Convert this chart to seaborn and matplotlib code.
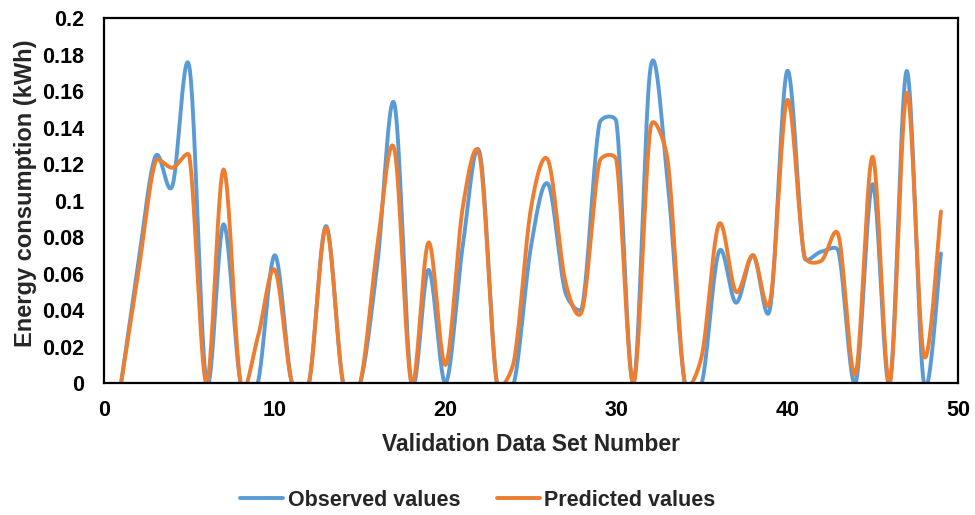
import numpy as np
import pandas as pd
import matplotlib
matplotlib.use("Agg")
import matplotlib.pyplot as plt
from matplotlib.ticker import FuncFormatter, MultipleLocator
import seaborn as sns

# Validation samples 1..49
set_number = list(range(1, 50))
observed = [0.000, 0.065, 0.124, 0.108, 0.173, 0.000, 0.087, 0.000, 0.000, 0.070,
            0.000, 0.000, 0.086, 0.000, 0.000, 0.065, 0.153, 0.000, 0.062, 0.000,
            0.075, 0.126, 0.000, 0.000, 0.075, 0.109, 0.050, 0.042, 0.142, 0.143,
            0.000, 0.173, 0.110, 0.000, 0.000, 0.072, 0.044, 0.070, 0.041, 0.171,
            0.069, 0.072, 0.072, 0.000, 0.109, 0.000, 0.171, 0.000, 0.071]
predicted = [0.000, 0.060, 0.121, 0.118, 0.124, 0.000, 0.117, 0.000, 0.025, 0.062,
             0.000, 0.000, 0.085, 0.000, 0.000, 0.075, 0.128, 0.000, 0.077, 0.010,
             0.096, 0.124, 0.000, 0.012, 0.096, 0.122, 0.056, 0.040, 0.121, 0.122,
             0.000, 0.140, 0.122, 0.000, 0.015, 0.087, 0.050, 0.070, 0.045, 0.155,
             0.070, 0.067, 0.081, 0.005, 0.124, 0.000, 0.159, 0.015, 0.094]

series_names = ["Observed values", "Predicted values"]
colors = ["#5B9BD5", "#ED7D31"]
y_ticks = [0, 0.02, 0.04, 0.06, 0.08, 0.1, 0.12, 0.14, 0.16, 0.18, 0.2]

FIG_W, FIG_H = 9.75, 5.15
AX_RECT = [0.1067, 0.2563, 0.8759, 0.7087]
X_RANGE, Y_RANGE = (0, 50), (0, 0.2)


def smooth_curve(x, y, sx, sy, steps=40):
    """Spreadsheet-style smoothed line: cubic Bezier segments whose control
    arms are 1/6 of the neighbour chord, capped at half the segment length
    (distances measured in screen units sx, sy)."""
    p = np.column_stack([x, y]).astype(float)
    scale = np.array([sx, sy])
    ext = np.vstack([p[0], p, p[-1]])
    t = np.linspace(0, 1, steps)[:, None]

    def dist(a, b):
        return np.hypot(*((b - a) * scale))

    out = []
    for i in range(len(p) - 1):
        p0, p1, p2, p3 = ext[i], ext[i + 1], ext[i + 2], ext[i + 3]
        d12 = dist(p1, p2)
        d02 = dist(p0, p2)
        d13 = dist(p1, p3)
        f0 = 1 / 6 if d02 == 0 else min(1 / 6, d12 / (2 * d02))
        f1 = 1 / 6 if d13 == 0 else min(1 / 6, d12 / (2 * d13))
        c1 = p1 + f0 * (p2 - p0)
        c2 = p2 - f1 * (p3 - p1)
        seg = ((1 - t) ** 3) * p1 + 3 * ((1 - t) ** 2) * t * c1 \
            + 3 * (1 - t) * t ** 2 * c2 + t ** 3 * p2
        out.append(seg if i == 0 else seg[1:])
    seg = np.vstack(out)
    return seg[:, 0], seg[:, 1]


px_x = AX_RECT[2] * FIG_W * 100 / (X_RANGE[1] - X_RANGE[0])
px_y = AX_RECT[3] * FIG_H * 100 / (Y_RANGE[1] - Y_RANGE[0])

frames = []
for name, vals in zip(series_names, [observed, predicted]):
    cx, cy = smooth_curve(set_number, vals, px_x, px_y)
    frames.append(pd.DataFrame({"x": cx, "y": cy, "series": name}))
df = pd.concat(frames, ignore_index=True)

sns.set_theme(style="white")
plt.rcParams["font.family"] = ["Liberation Sans", "DejaVu Sans"]
plt.rcParams["font.weight"] = "bold"

fig = plt.figure(figsize=(FIG_W, FIG_H), dpi=100)
ax = fig.add_axes(AX_RECT)

sns.lineplot(data=df, x="x", y="y", hue="series", palette=colors,
             sort=False, estimator=None, linewidth=2.8, ax=ax, legend=True)

ax.set_xlim(*X_RANGE)
ax.set_ylim(*Y_RANGE)
ax.xaxis.set_major_locator(MultipleLocator(10))
ax.set_yticks(y_ticks)
ax.yaxis.set_major_formatter(FuncFormatter(lambda v, _: f"{v:g}"))
ax.tick_params(axis="both", length=0, labelsize=15.5, colors="black")
ax.tick_params(axis="y", pad=14)
ax.tick_params(axis="x", pad=12)
for lab in ax.get_xticklabels() + ax.get_yticklabels():
    lab.set_fontweight("bold")

for sp in ax.spines.values():
    sp.set_visible(True)
    sp.set_color("black")
    sp.set_linewidth(1.6)

ax.set_xlabel("Validation Data Set Number", fontsize=16.5, fontweight="bold", labelpad=9)
ax.set_ylabel("Energy consumption (kWh)", fontsize=17, fontweight="bold", labelpad=8)
ax.yaxis.set_label_coords(-0.079, 0.52)

handles, labels = ax.get_legend_handles_labels()
ax.get_legend().remove()
fig.legend(handles, labels, loc="center", bbox_to_anchor=(0.49, 0.029), ncol=2,
           frameon=False, handlelength=2.0, handletextpad=0.2,
           columnspacing=1.7, prop={"weight": "bold", "size": 15.5})

fig.savefig("out.png", dpi=100)
